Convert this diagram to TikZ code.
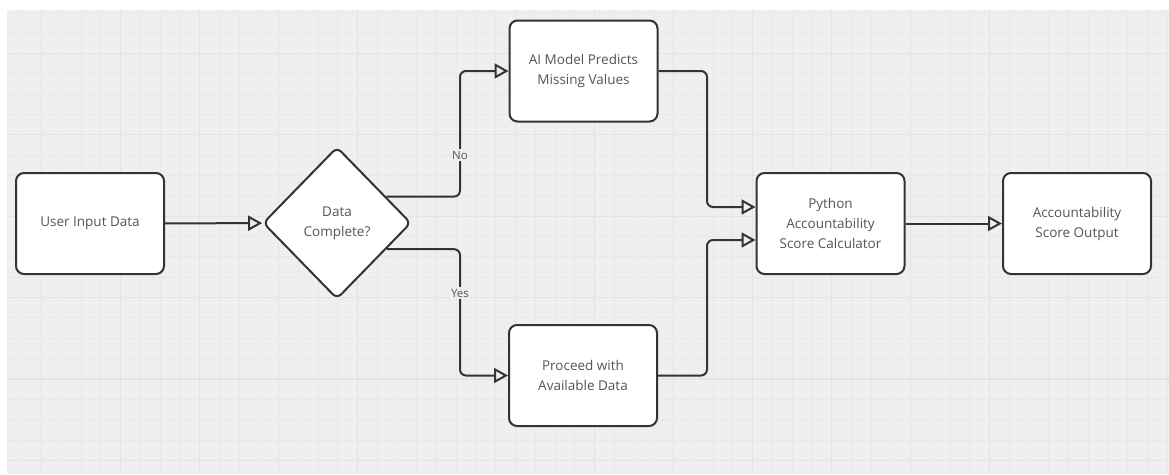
\documentclass[tikz,border=0pt]{standalone}
\usepackage{fontspec}
\setmainfont{Open Sans}
\usetikzlibrary{shapes.geometric,arrows.meta,calc}
\definecolor{canvas}{HTML}{EFEFEF}
\definecolor{gridminor}{HTML}{E8E8E8}
\definecolor{gridmajor}{HTML}{E3E3E3}
\definecolor{ink}{HTML}{333333}
\definecolor{txt}{HTML}{555555}
\tikzset{
  box/.style={draw=ink, line width=2pt, fill=white, rounded corners=8pt,
    minimum width=148pt, minimum height=101pt, inner sep=0pt, align=center,
    text=txt, font=\fontsize{13.5}{20}\selectfont},
  decision/.style={draw=ink, line width=2pt, fill=white, diamond, rounded corners=6pt,
    minimum width=148pt, minimum height=152pt, inner sep=0pt, align=center,
    text=txt, font=\fontsize{13.5}{20}\selectfont},
  conn/.style={draw=ink, line width=2pt, rounded corners=6pt,
    -{Triangle[open, length=14pt, width=15pt, line width=2pt]}},
  edgelabel/.style={fill=canvas, text=txt, inner sep=1.5pt,
    font=\fontsize{11.5}{13}\selectfont},
}
\begin{document}
\begin{tikzpicture}[x=1pt, y=-1pt]
  \useasboundingbox (0,0) rectangle (1169,474);
  % canvas with its grid
  \fill[canvas] (7,10) rectangle (1169,474);
  \foreach \j in {-1,...,57} {
    \pgfmathsetmacro{\gx}{41.7+19.75*\j}
    \pgfmathtruncatemacro{\ismajor}{mod(\j+4,4)==0}
    \ifnum\ismajor=1
      \draw[gridmajor, line width=1.2pt] (\gx,10) -- (\gx,474);
    \else
      \draw[gridminor, line width=1pt] (\gx,10) -- (\gx,474);
    \fi
  }
  \foreach \k in {-1,...,22} {
    \pgfmathsetmacro{\gy}{33+20.35*\k}
    \pgfmathtruncatemacro{\ismajor}{mod(\k+3,4)==0}
    \ifnum\ismajor=1
      \draw[gridmajor, line width=1.2pt] (7,\gy) -- (1169,\gy);
    \else
      \draw[gridminor, line width=1pt] (7,\gy) -- (1169,\gy);
    \fi
  }

  % steps of the flow
  \node[box] (user) at (90,223.5) {User Input Data};
  \node[decision] (check) at (337,223) {Data\\Complete?};
  \node[box] (ai) at (583.5,71) {AI Model Predicts\\Missing Values};
  \node[box] (proceed) at (583,375.5) {Proceed with\\Available Data};
  \node[box] (calc) at (830.5,223.5) {Python\\Accountability\\Score Calculator};
  \node[box] (result) at (1077,223.5) {Accountability\\Score Output};

  % routing points
  \coordinate (split) at (460,0);
  \coordinate (merge) at (707,0);
  \coordinate (noout) at ($(check.north)!0.657!(check.east)$);
  \coordinate (yesout) at ($(check.east)!0.34!(check.south)$);
  \coordinate (calcin1) at ($(calc.west)+(0,-16.5)$);
  \coordinate (calcin2) at ($(calc.west)+(0,16.5)$);

  % connectors
  \draw[conn] (user) -- (check);
  \draw[conn] (noout) -| (split |- ai.west) -- (ai.west);
  \draw[conn] (yesout) -| (split |- proceed.west) -- (proceed.west);
  \draw[conn] (ai.east) -| (merge |- calcin1) -- (calcin1);
  \draw[conn] (proceed.east) -| (merge |- calcin2) -- (calcin2);
  \draw[conn] (calc) -- (result);

  % branch labels
  \node[edgelabel] (nolabel) at (460,155) {No};
  \node[edgelabel] (yeslabel) at (460,293) {Yes};
\end{tikzpicture}
\end{document}
